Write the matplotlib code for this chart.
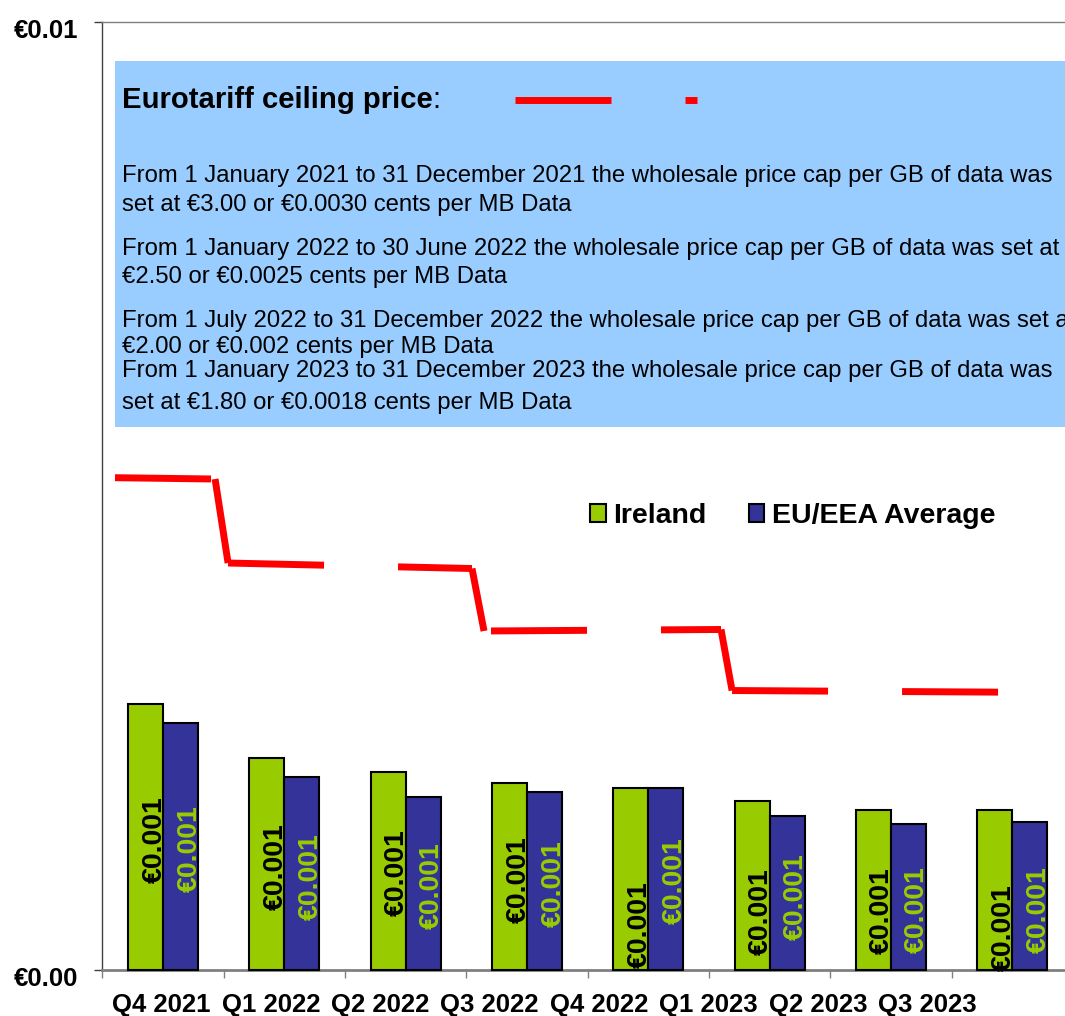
import matplotlib
matplotlib.use('Agg')
import matplotlib.pyplot as plt
from matplotlib.patches import Rectangle, Patch
from matplotlib.lines import Line2D
from matplotlib.transforms import ScaledTranslation
import numpy as np

plt.rcParams['font.family'] = ['Liberation Sans', 'DejaVu Sans']
plt.rcParams['lines.scale_dashes'] = False

# ---------------- data ----------------
categories = ['Q4 2021', 'Q1 2022', 'Q2 2022', 'Q3 2022',
              'Q4 2022', 'Q1 2023', 'Q2 2023', 'Q3 2023']
series_names = ['Ireland', 'EU/EEA Average']
ireland = [0.00281, 0.00224, 0.00209, 0.00197, 0.00192, 0.00178, 0.00169, 0.00169]
eu_avg = [0.00261, 0.00204, 0.00183, 0.00188, 0.00192, 0.00162, 0.00154, 0.00156]
ireland_labels = ['€0.001'] * 8
eu_labels = ['€0.001'] * 8

# Eurotariff ceiling line as drawn on the chart (x in category units)
cap_x = [-0.396, 0.429, 0.536, 2.547, 2.646, 4.600, 4.691, 7.395]
cap_y = [0.005193, 0.005179, 0.004293, 0.004235, 0.003576, 0.003592, 0.002948, 0.002927]

y_ticks = [0.0, 0.01]
y_tick_labels = ['€0.00', '€0.01']

box_title = 'Eurotariff ceiling price'
box_lines = [
    'From 1 January 2021 to 31 December 2021 the wholesale price cap per GB of data was',
    'set at €3.00 or €0.0030 cents per MB Data',
    'From 1 January 2022 to 30 June 2022 the wholesale price cap per GB of data was set at',
    '€2.50 or €0.0025 cents per MB Data',
    'From 1 July 2022 to 31 December 2022 the wholesale price cap per GB of data was set at',
    '€2.00 or €0.002 cents per MB Data',
    'From 1 January 2023 to 31 December 2023 the wholesale price cap per GB of data was',
    'set at €1.80 or €0.0018 cents per MB Data',
]

# ---------------- layout / style ----------------
W, H = 1065, 1016
GREEN, BLUE, RED, BOXBLUE = '#99CC00', '#333399', '#FF0000', '#99CCFF'
PX = 0.72  # points per pixel at dpi 100
bar_w = 0.2886
label_shift_ire = [3, 2.5, 2, 3.5, 46, 25.5, 21, 38]   # px downward nudges
label_shift_eu = [2.5, 3, 2.5, 3, 2, 3, 13, 14]
cap_dash = (96 * PX, 74 * PX)
cap_dash_offset = [0, 0, 0, 0, 163 * PX, 0, 0]
box_line_baselines = [182, 211, 255, 283, 327, 353, 377, 409]
xlabel_pos = [-0.0124 + 0.9019 * i for i in range(len(categories))]


def fx(px):
    return px / W


def fy(py):
    return 1 - py / H


fig = plt.figure(figsize=(W / 100, H / 100), dpi=100)
ax = fig.add_axes([fx(102.4), fy(970), 970.4 / W, 948 / H])

x = np.arange(len(categories))
ax.bar(x - bar_w / 2, ireland, bar_w, color=GREEN, edgecolor='black',
       linewidth=1.5, zorder=3, clip_on=False)
ax.bar(x + bar_w / 2, eu_avg, bar_w, color=BLUE, edgecolor='black',
       linewidth=1.5, zorder=3, clip_on=False)

for i in range(len(categories)):
    ax.annotate(ireland_labels[i], xy=(x[i] - bar_w / 2, ireland[i] / 2),
                xytext=(16 * PX, -label_shift_ire[i] * PX), textcoords='offset points',
                rotation=90, rotation_mode='anchor', ha='center', va='baseline',
                fontsize=20.5, fontweight='bold', color='black', zorder=4)
    ax.annotate(eu_labels[i], xy=(x[i] + bar_w / 2, eu_avg[i] / 2),
                xytext=(16 * PX, -label_shift_eu[i] * PX), textcoords='offset points',
                rotation=90, rotation_mode='anchor', ha='center', va='baseline',
                fontsize=20.5, fontweight='bold', color=GREEN, zorder=4)

for k in range(len(cap_x) - 1):
    ax.plot(cap_x[k:k + 2], cap_y[k:k + 2], color=RED, lw=5,
            linestyle=(cap_dash_offset[k], cap_dash), dash_capstyle='butt',
            solid_capstyle='butt', zorder=5, clip_on=False)

ax.set_xlim(-0.5, 7.5)
ax.set_ylim(0, 0.01)

ax.spines['right'].set_visible(False)
ax.spines['left'].set_color('#404040')
ax.spines['left'].set_linewidth(1.0)
ax.spines['bottom'].set_color('#808080')
ax.spines['bottom'].set_linewidth(2.0)
ax.spines['top'].set_color('#808080')
ax.spines['top'].set_linewidth(1.0)

ax.set_yticks(y_ticks, y_tick_labels, fontsize=18.5, fontweight='bold')
ax.tick_params(axis='y', direction='out', length=5.8, width=1, color='#404040', pad=11.5)
for lab in ax.get_yticklabels():
    lab.set_transform(lab.get_transform() + ScaledTranslation(0, -0.06, fig.dpi_scale_trans))

ax.set_xticks(xlabel_pos, categories, fontsize=18.5, fontweight='bold')
ax.tick_params(axis='x', which='major', length=0, pad=16.5)
ax.set_xticks(np.arange(-0.5, len(categories) + 0.5, 1), minor=True)
ax.tick_params(axis='x', which='minor', direction='out', length=5.8, width=1, color='#808080')

# legend
handles = [Patch(facecolor=GREEN, edgecolor='black', linewidth=1.5),
           Patch(facecolor=BLUE, edgecolor='black', linewidth=1.5)]
fig.legend(handles, series_names, loc='center left', bbox_to_anchor=(fx(590), fy(516)),
           ncol=2, frameon=False, prop=dict(weight='bold', size=20.5),
           handlelength=0.55, handleheight=0.55, handletextpad=0.25,
           columnspacing=1.5, borderpad=0, borderaxespad=0)

# annotation box
fig.add_artist(Rectangle((fx(115), fy(427)), (1100 - 115) / W, (427 - 61) / H,
                         transform=fig.transFigure, facecolor=BOXBLUE,
                         edgecolor='none', zorder=1))
t = fig.text(fx(122), fy(108), box_title, fontsize=21.1, fontweight='bold',
             va='baseline', zorder=2)
renderer = fig.canvas.get_renderer()
bb = t.get_window_extent(renderer)
fig.text(bb.x1 / W, fy(108), ':', fontsize=21.1, va='baseline', zorder=2)
fig.add_artist(Line2D([fx(515), fx(697)], [fy(100), fy(100)], transform=fig.transFigure,
                      color=RED, lw=5, linestyle=(0, cap_dash), dash_capstyle='butt',
                      zorder=2))
for line, yb in zip(box_lines, box_line_baselines):
    fig.text(fx(122), fy(yb), line, fontsize=17.2, va='baseline', zorder=2)

fig.savefig('out.png', dpi=100)
